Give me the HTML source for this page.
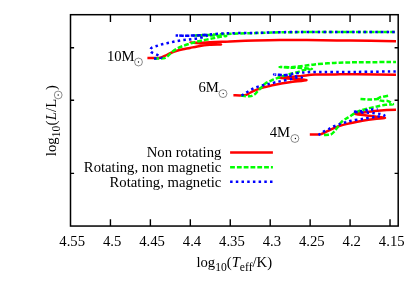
<!DOCTYPE html>
<html><head><meta charset="utf-8"><title>HR diagram</title>
<style>
html,body{margin:0;padding:0;background:#fff;}
body{width:407px;height:285px;overflow:hidden;}
svg{display:block;will-change:transform;}
text{font-family:"Liberation Serif", serif;font-size:13.6px;fill:#000;}

</style></head><body>
<svg width="407" height="285" viewBox="0 0 407 285">
<rect x="0" y="0" width="407" height="285" fill="#fff"/>
<defs><clipPath id="cp"><rect x="70.5" y="14.7" width="325.5" height="211.35000000000002"/></clipPath></defs>
<g clip-path="url(#cp)">
<path d="M147.40,57.90 C148.14,57.92 150.62,57.97 152.00,58.00 C153.38,58.03 154.72,58.12 156.00,58.10 C157.28,58.08 158.62,58.24 160.00,57.90 C161.38,57.56 162.89,56.78 164.60,56.00 C166.31,55.22 168.73,53.83 170.70,53.00 C172.67,52.17 174.93,51.39 176.90,50.80 C178.87,50.21 180.90,49.75 183.00,49.30 C185.10,48.85 187.71,48.46 190.00,48.00 C192.29,47.54 194.16,46.91 197.30,46.40 C200.44,45.89 205.81,45.10 209.60,44.80 C213.39,44.50 220.94,44.66 221.00,44.50 C221.06,44.34 213.36,44.01 210.00,43.80 C206.64,43.59 203.12,43.39 200.00,43.20 C196.88,43.01 190.50,42.68 190.50,42.60 C190.50,42.52 196.88,42.75 200.00,42.70 C203.12,42.65 206.48,42.44 210.00,42.30 C213.52,42.16 218.80,41.94 222.00,41.80 C225.20,41.66 224.72,41.61 230.00,41.40 C235.28,41.19 247.00,40.72 255.00,40.50 C263.00,40.28 271.68,40.08 280.00,40.00 C288.32,39.92 295.80,39.90 307.00,40.00 C318.20,40.10 335.28,40.41 350.00,40.60 C364.72,40.79 391.16,41.10 399.00,41.20" stroke="#ff0000" stroke-width="2.5" stroke-dashoffset="0" fill="none" stroke-linejoin="round"/>
<path d="M154.10,58.50 C155.04,58.52 158.32,58.66 160.00,58.60 C161.68,58.54 163.27,58.58 164.60,58.10 C165.93,57.62 167.12,56.58 168.30,55.60 C169.48,54.62 170.62,53.10 172.00,52.00 C173.38,50.90 175.14,49.66 176.90,48.70 C178.66,47.74 180.90,46.82 183.00,46.00 C185.10,45.18 187.71,44.32 190.00,43.60 C192.29,42.88 195.16,42.03 197.30,41.50 C199.44,40.97 201.43,40.70 203.40,40.30 C205.37,39.90 207.63,39.40 209.60,39.00 C211.57,38.60 213.73,38.18 215.70,37.80 C217.67,37.42 220.25,36.89 221.90,36.60 C223.55,36.31 227.10,36.16 226.00,36.00 C224.90,35.84 218.36,35.70 215.00,35.60 C211.64,35.50 208.42,35.42 205.00,35.40 C201.58,35.38 193.60,35.55 193.60,35.50 C193.60,35.45 201.58,35.26 205.00,35.10 C208.42,34.94 210.73,34.72 215.00,34.50 C219.27,34.28 225.30,33.92 231.70,33.70 C238.10,33.48 247.27,33.32 255.00,33.10 C262.73,32.88 271.68,32.46 280.00,32.30 C288.32,32.14 287.96,32.13 307.00,32.10 C326.04,32.07 384.28,32.10 399.00,32.10" stroke="#00ff00" stroke-width="2.5" stroke-dasharray="4.8 2" stroke-dashoffset="0" fill="none" stroke-linejoin="round"/>
<path d="M154.00,58.50 C154.64,58.47 156.80,58.46 158.00,58.30 C159.20,58.14 161.34,57.90 161.50,57.50 C161.66,57.10 159.88,56.33 159.00,55.80 C158.12,55.27 157.28,54.81 156.00,54.20 C154.72,53.59 151.90,52.75 151.00,52.00 C150.10,51.25 150.19,50.24 150.40,49.50 C150.61,48.76 151.12,48.02 152.30,47.40 C153.48,46.78 156.04,46.14 157.80,45.60 C159.56,45.06 161.43,44.46 163.30,44.00 C165.17,43.54 167.53,43.13 169.50,42.70 C171.47,42.27 173.63,41.68 175.60,41.30 C177.57,40.92 179.93,40.56 181.80,40.30 C183.67,40.04 185.60,39.91 187.30,39.70 C189.00,39.49 190.61,39.24 192.40,39.00 C194.19,38.76 196.53,38.58 198.50,38.20 C200.47,37.82 203.23,37.08 204.70,36.60 C206.17,36.12 206.53,35.54 207.70,35.20 C208.87,34.86 211.31,34.61 212.00,34.50" stroke="#0000ff" stroke-width="2.5" stroke-dasharray="2.5 3.2" stroke-dashoffset="0" fill="none" stroke-linejoin="round"/>
<path d="M175.60,35.40 C177.10,35.45 181.53,35.70 185.00,35.70 C188.47,35.70 193.36,35.59 197.30,35.40 C201.24,35.21 205.66,34.80 209.60,34.50 C213.54,34.20 218.36,33.71 221.90,33.50 C225.44,33.29 226.40,33.30 231.70,33.20 C237.00,33.10 247.27,33.06 255.00,32.90 C262.73,32.74 271.68,32.33 280.00,32.20 C288.32,32.07 287.96,32.12 307.00,32.10 C326.04,32.08 384.28,32.10 399.00,32.10" stroke="#0000ff" stroke-width="2.5" stroke-dasharray="2.5 3.2" stroke-dashoffset="0" fill="none" stroke-linejoin="round"/>
<path d="M176.50,35.40 C177.86,35.45 181.67,35.70 185.00,35.70 C188.33,35.70 193.78,35.56 197.30,35.40 C200.82,35.24 205.45,34.81 207.00,34.70" stroke="#0000ff" stroke-width="2.5" stroke-dasharray="2.5 3.2" stroke-dashoffset="2.8" fill="none" stroke-linejoin="round"/>
<path d="M233.40,95.35 C235.00,95.35 241.30,95.44 243.40,95.35 C245.50,95.26 245.51,95.18 246.50,94.80 C247.49,94.42 248.13,93.74 249.60,93.00 C251.07,92.26 253.72,91.02 255.70,90.20 C257.68,89.38 260.03,88.51 262.00,87.90 C263.97,87.29 265.92,86.90 268.00,86.40 C270.08,85.90 271.54,85.46 275.00,84.80 C278.46,84.14 284.58,83.04 289.60,82.30 C294.62,81.56 305.54,80.73 306.40,80.20 C307.26,79.67 298.42,79.32 295.00,79.00 C291.58,78.68 287.64,78.41 285.00,78.20 C282.36,77.99 277.76,77.88 278.50,77.70 C279.24,77.52 285.86,77.39 289.60,77.10 C293.34,76.81 297.84,76.30 301.90,75.90 C305.96,75.50 309.70,74.84 315.00,74.60 C320.30,74.36 328.33,74.45 335.00,74.40 C341.67,74.35 346.46,74.22 356.70,74.30 C366.94,74.38 392.23,74.80 399.00,74.90" stroke="#ff0000" stroke-width="2.5" stroke-dashoffset="0" fill="none" stroke-linejoin="round"/>
<path d="M241.00,95.70 C242.38,95.80 247.44,96.49 249.60,96.30 C251.76,96.11 253.12,95.41 254.50,94.50 C255.88,93.59 257.02,91.82 258.20,90.60 C259.38,89.38 260.81,88.00 261.90,86.90 C262.99,85.80 263.53,84.71 265.00,83.70 C266.47,82.69 269.13,81.50 271.10,80.60 C273.07,79.70 275.33,78.85 277.30,78.10 C279.27,77.35 281.37,76.56 283.40,75.90 C285.43,75.24 287.76,74.59 290.00,74.00 C292.24,73.41 295.05,72.86 297.40,72.20 C299.75,71.54 302.36,70.40 304.70,69.90 C307.04,69.40 311.95,69.36 312.00,69.10 C312.05,68.84 307.40,68.51 305.00,68.30 C302.60,68.09 299.46,67.88 297.00,67.80 C294.54,67.72 292.37,67.94 289.60,67.80 C286.83,67.66 279.64,67.00 279.70,66.90 C279.76,66.80 286.59,67.31 290.00,67.20 C293.41,67.09 297.06,66.65 301.00,66.20 C304.94,65.75 309.22,64.93 314.60,64.40 C319.98,63.87 327.86,63.24 334.60,62.90 C341.34,62.56 346.40,62.44 356.70,62.30 C367.00,62.16 392.23,62.05 399.00,62.00" stroke="#00ff00" stroke-width="2.5" stroke-dasharray="4.8 2" stroke-dashoffset="0" fill="none" stroke-linejoin="round"/>
<path d="M241.60,95.70 C242.19,95.30 243.92,94.08 245.30,93.20 C246.68,92.32 248.63,91.08 250.20,90.20 C251.77,89.32 253.44,88.39 255.10,87.70 C256.76,87.01 258.82,86.40 260.60,85.90 C262.38,85.40 264.54,85.00 266.20,84.60 C267.86,84.20 269.32,83.82 271.00,83.40 C272.68,82.98 274.91,82.42 276.70,82.00 C278.49,81.58 279.94,81.28 282.20,80.80 C284.46,80.32 288.54,79.50 290.80,79.00 C293.06,78.50 294.52,77.94 296.30,77.70 C298.08,77.46 301.95,77.69 301.90,77.50 C301.85,77.31 297.74,76.77 296.00,76.50 C294.26,76.23 292.76,76.01 291.00,75.80 C289.24,75.59 287.69,75.42 285.00,75.20 C282.31,74.98 275.05,74.45 274.20,74.40 C273.35,74.35 277.83,74.82 279.70,74.90 C281.57,74.98 284.03,75.04 285.90,74.90 C287.77,74.76 290.02,74.24 291.40,74.00 C292.78,73.76 293.12,73.59 294.50,73.40 C295.88,73.21 298.24,72.96 300.00,72.80 C301.76,72.64 303.10,72.53 305.50,72.40 C307.90,72.27 306.81,72.08 315.00,72.00 C323.19,71.92 343.26,72.00 356.70,71.90 C370.14,71.80 392.23,71.48 399.00,71.40" stroke="#0000ff" stroke-width="2.5" stroke-dasharray="2.5 3.2" stroke-dashoffset="0" fill="none" stroke-linejoin="round"/>
<path d="M309.80,134.50 C311.18,134.50 316.53,134.58 318.40,134.50 C320.27,134.42 320.51,134.30 321.50,134.00 C322.49,133.70 323.13,133.30 324.60,132.60 C326.07,131.90 328.73,130.51 330.70,129.60 C332.67,128.69 334.93,127.65 336.90,126.90 C338.87,126.15 340.90,125.49 343.00,124.90 C345.10,124.31 346.91,123.87 350.00,123.20 C353.09,122.53 358.36,121.39 362.30,120.70 C366.24,120.01 370.97,119.33 374.60,118.90 C378.23,118.47 384.94,118.38 385.00,118.00 C385.06,117.62 378.20,116.95 375.00,116.50 C371.80,116.05 368.20,115.60 365.00,115.20 C361.80,114.80 355.00,114.46 355.00,114.00 C355.00,113.54 361.86,112.80 365.00,112.30 C368.14,111.80 371.10,111.28 374.60,110.90 C378.10,110.52 383.00,110.09 386.90,109.90 C390.80,109.71 397.06,109.73 399.00,109.70" stroke="#ff0000" stroke-width="2.5" stroke-dashoffset="0" fill="none" stroke-linejoin="round"/>
<path d="M324.00,135.10 C325.07,135.00 329.04,135.09 330.70,134.50 C332.36,133.91 333.22,132.68 334.40,131.40 C335.58,130.12 336.92,128.07 338.10,126.50 C339.28,124.93 340.42,122.91 341.80,121.60 C343.18,120.29 345.39,119.13 346.70,118.30 C348.01,117.47 348.50,117.36 350.00,116.40 C351.50,115.44 354.13,113.32 356.10,112.30 C358.07,111.28 360.33,110.62 362.30,110.00 C364.27,109.38 366.43,108.88 368.40,108.40 C370.37,107.92 372.82,107.40 374.60,107.00 C376.38,106.60 377.74,106.25 379.50,105.90 C381.26,105.55 383.92,105.02 385.60,104.80 C387.28,104.58 388.82,104.60 390.00,104.50 C391.18,104.40 392.92,104.55 393.00,104.20 C393.08,103.85 391.38,102.83 390.50,102.30 C389.62,101.77 388.70,101.12 387.50,100.90 C386.30,100.68 384.28,101.00 383.00,100.90 C381.72,100.80 380.36,100.60 379.50,100.30 C378.64,100.00 377.60,99.43 377.60,99.00 C377.60,98.57 378.80,97.95 379.50,97.60 C380.20,97.25 380.56,97.10 382.00,96.80 C383.44,96.50 387.46,95.88 388.50,95.70" stroke="#00ff00" stroke-width="2.5" stroke-dasharray="4.8 2" stroke-dashoffset="0" fill="none" stroke-linejoin="round"/>
<path d="M360.50,98.90 C361.67,98.98 365.85,99.32 367.80,99.40 C369.75,99.48 370.92,99.46 372.70,99.40 C374.48,99.34 377.91,99.06 378.90,99.00" stroke="#00ff00" stroke-width="2.5" stroke-dasharray="4.8 2" stroke-dashoffset="0" fill="none" stroke-linejoin="round"/>
<path d="M318.40,135.10 C318.80,134.81 320.00,133.89 320.90,133.30 C321.80,132.71 322.72,132.09 324.00,131.40 C325.28,130.71 327.40,129.78 328.90,129.00 C330.40,128.22 331.83,127.19 333.40,126.50 C334.97,125.81 337.45,125.20 338.70,124.70 C339.95,124.20 339.92,123.83 341.20,123.40 C342.48,122.97 345.10,122.43 346.70,122.00 C348.30,121.57 348.70,121.20 351.20,120.70 C353.70,120.20 358.76,119.44 362.30,118.90 C365.84,118.36 370.64,117.70 373.30,117.30 C375.96,116.90 377.12,116.67 378.90,116.40 C380.68,116.13 384.11,115.98 384.40,115.60 C384.69,115.22 382.27,114.37 380.70,114.00 C379.13,113.63 376.57,113.51 374.60,113.30 C372.63,113.09 370.37,112.84 368.40,112.70 C366.43,112.56 364.76,112.53 362.30,112.40 C359.84,112.27 353.37,112.08 353.00,111.90 C352.63,111.72 357.92,111.56 360.00,111.30 C362.08,111.04 364.06,110.60 366.00,110.30 C367.94,110.00 370.24,109.61 372.10,109.40 C373.96,109.19 376.72,109.06 377.60,109.00" stroke="#0000ff" stroke-width="2.5" stroke-dasharray="2.5 3.2" stroke-dashoffset="0" fill="none" stroke-linejoin="round"/>
</g>
<rect x="70.5" y="14.7" width="327.7" height="211.35000000000002" fill="none" stroke="#000" stroke-width="1.5"/>
<path d="M110.44,226.05 V219.15 M110.44,14.7 V21.95 M150.38,226.05 V219.15 M150.38,14.7 V21.95 M190.32,226.05 V219.15 M190.32,14.7 V21.95 M230.26,226.05 V219.15 M230.26,14.7 V21.95 M270.20,226.05 V219.15 M270.20,14.7 V21.95 M310.14,226.05 V219.15 M310.14,14.7 V21.95 M350.08,226.05 V219.15 M350.08,14.7 V21.95 M390.02,226.05 V219.15 M390.02,14.7 V21.95 M70.5,47.8 H74.1 M398.2,47.8 H394.59999999999997 M70.5,100.2 H74.1 M398.2,100.2 H394.59999999999997 M70.5,173.4 H74.1 M398.2,173.4 H394.59999999999997" stroke="#000" stroke-width="1.4" fill="none"/>
<text transform="translate(72.2,245.5) scale(1.081,1)" text-anchor="middle" class="">4.55</text>
<text transform="translate(112.14,245.5) scale(1.081,1)" text-anchor="middle" class="">4.5</text>
<text transform="translate(152.08,245.5) scale(1.081,1)" text-anchor="middle" class="">4.45</text>
<text transform="translate(192.02,245.5) scale(1.081,1)" text-anchor="middle" class="">4.4</text>
<text transform="translate(231.96,245.5) scale(1.081,1)" text-anchor="middle" class="">4.35</text>
<text transform="translate(271.9,245.5) scale(1.081,1)" text-anchor="middle" class="">4.3</text>
<text transform="translate(311.84,245.5) scale(1.081,1)" text-anchor="middle" class="">4.25</text>
<text transform="translate(351.78,245.5) scale(1.081,1)" text-anchor="middle" class="">4.2</text>
<text transform="translate(391.72,245.5) scale(1.081,1)" text-anchor="middle" class="">4.15</text>
<!-- mass labels -->
<text transform="translate(106.9,60.7) scale(1.081,1)" text-anchor="start" class="">10M</text><circle cx="138.5" cy="62.0" r="3.95" fill="none" stroke="#000" stroke-width="0.45"/><circle cx="138.5" cy="62.0" r="0.65" fill="#000"/>
<text transform="translate(198.5,91.7) scale(1.081,1)" text-anchor="start" class="">6M</text><circle cx="223.0" cy="93.6" r="3.95" fill="none" stroke="#000" stroke-width="0.45"/><circle cx="223.2" cy="93.6" r="0.65" fill="#000"/>
<text transform="translate(269.7,136.5) scale(1.081,1)" text-anchor="start" class="">4M</text><circle cx="294.9" cy="138.5" r="3.95" fill="none" stroke="#000" stroke-width="0.45"/><circle cx="295.4" cy="138.5" r="0.65" fill="#000"/>
<!-- legend -->
<text transform="translate(221.4,157.4) scale(1.081,1)" text-anchor="end" class="">Non rotating</text>
<text transform="translate(221.4,171.9) scale(1.081,1)" text-anchor="end" class="">Rotating, non magnetic</text>
<text transform="translate(221.4,187.0) scale(1.081,1)" text-anchor="end" class="">Rotating, magnetic</text>
<path d="M230.1,152.4 H272.9" stroke="#ff0000" stroke-width="2.5" fill="none"/>
<path d="M230.1,167.3 H272.9" stroke="#00ff00" stroke-width="2.5" stroke-dasharray="4.8 2" fill="none"/>
<path d="M230.1,181.8 H272.9" stroke="#0000ff" stroke-width="2.5" stroke-dasharray="2.5 3.2" fill="none"/>
<!-- x label -->
<text transform="translate(196.40,266.60) scale(1.081,1)" style="font-size:13.6px">log</text><text transform="translate(215.19,270.50) scale(1.0,1)" style="font-size:11.6px">10</text><text transform="translate(226.79,266.60) scale(1.081,1)" style="font-size:13.6px">(</text><text transform="translate(231.68,266.60) scale(1.081,1)" style="font-size:13.6px;font-style:italic">T</text><text transform="translate(239.86,270.50) scale(1.0,1)" style="font-size:11.6px">eff</text><text transform="translate(252.52,266.60) scale(1.081,1)" style="font-size:13.6px">/K)</text>
<!-- y label -->
<g transform="translate(56.3,156.2) rotate(-90)">
<text transform="translate(0.00,0.00) scale(1.081,1)" style="font-size:13.6px">log</text><text transform="translate(18.99,3.90) scale(1.0,1)" style="font-size:11.6px">10</text><text transform="translate(30.79,0.00) scale(1.081,1)" style="font-size:13.6px">(</text><text transform="translate(35.88,0.00) scale(1.081,1)" style="font-size:13.6px;font-style:italic">L</text><text transform="translate(44.26,0.00) scale(1.081,1)" style="font-size:13.6px">/L</text><circle cx="61.22" cy="1.9" r="3.9" fill="none" stroke="#000" stroke-width="0.45"/><circle cx="61.22" cy="1.9" r="0.65" fill="#000"/><text transform="translate(66.22,0.00) scale(1.081,1)" style="font-size:13.6px">)</text>
</g>
</svg>
</body></html>
